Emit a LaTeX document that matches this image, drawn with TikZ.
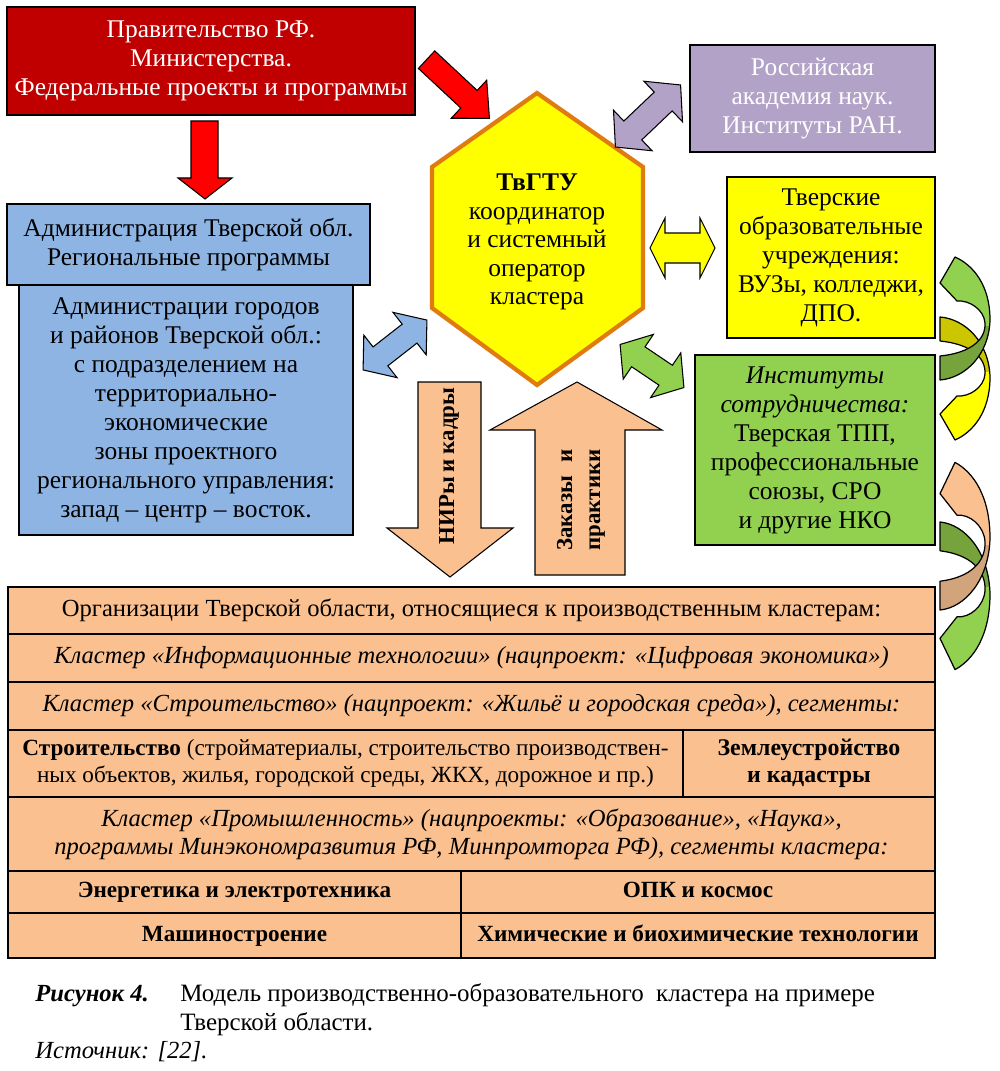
\documentclass[tikz,border=0pt]{standalone}
\usepackage{fontspec}
\setmainfont{Liberation Serif}
\definecolor{gred}{HTML}{C00000}
\definecolor{ared}{HTML}{FF0000}
\definecolor{bl}{HTML}{8DB4E2}
\definecolor{pu}{HTML}{B3A2C7}
\definecolor{ye}{HTML}{FFFF00}
\definecolor{yed}{HTML}{CCC600}
\definecolor{hexor}{HTML}{E07B10}
\definecolor{gr}{HTML}{92D050}
\definecolor{grd}{HTML}{77A33C}
\definecolor{pe}{HTML}{FAC090}
\definecolor{ped}{HTML}{D2A47C}
\newcommand\DblArr[8]{%
  \begin{scope}[shift={(#1,#2)},rotate=#3]
    \filldraw[fill=#8,draw=black,line width=0.6pt]
      ({-#4/2},0) -- ({-#4/2+#5},{-#6}) -- ({-#4/2+#5},{-#7}) -- ({#4/2-#5},{-#7})
      -- ({#4/2-#5},{-#6}) -- ({#4/2},0) -- ({#4/2-#5},{#6}) -- ({#4/2-#5},{#7})
      -- ({-#4/2+#5},{#7}) -- ({-#4/2+#5},{#6}) -- cycle;
  \end{scope}}
\newcommand\SglArr[8]{%
  \begin{scope}[shift={(#1,#2)},rotate=#3]
    \filldraw[fill=#8,draw=black,line width=0.6pt]
      ({-#4/2},{-#7}) -- ({#4/2-#5},{-#7}) -- ({#4/2-#5},{-#6}) -- ({#4/2},0)
      -- ({#4/2-#5},{#6}) -- ({#4/2-#5},{#7}) -- ({-#4/2},{#7}) -- cycle;
  \end{scope}}
\newcommand\CurvArrow[5]{%
  \begin{scope}[shift={(#1,#2)},yscale=#3]
    \fill[#4] (0,0) -- (0,-24) .. controls (30,-27) and (46,-40) .. (45,-57)
      .. controls (44,-70) and (30,-80) .. (17,-79) -- (0,-97) -- (15,-123)
      .. controls (33,-115) and (50,-95) .. (50,-60) .. controls (49,-25) and (25,-2) .. (0,0) -- cycle;
    \begin{scope}
      \clip (-5,-54) rectangle (60,5);
      \fill[#5] (0,0) -- (0,-24) .. controls (30,-27) and (46,-40) .. (45,-57)
        .. controls (44,-70) and (30,-80) .. (17,-79) -- (0,-97) -- (15,-123)
        .. controls (33,-115) and (50,-95) .. (50,-60) .. controls (49,-25) and (25,-2) .. (0,0) -- cycle;
    \end{scope}
    \draw[line width=0.7pt,line join=round] (0,0) -- (0,-24) .. controls (30,-27) and (46,-40) .. (45,-57)
      .. controls (44,-70) and (30,-80) .. (17,-79) -- (0,-97) -- (15,-123)
      .. controls (33,-115) and (50,-95) .. (50,-60) .. controls (49,-25) and (25,-2) .. (0,0) -- cycle;
  \end{scope}}
\begin{document}
\begin{tikzpicture}[x=0.02cm,y=-0.02cm,
  box/.style={draw=black,line width=0.8pt,inner sep=0pt,align=center,
    font=\fontsize{14.5}{16.5}\selectfont},
  cell/.style={draw=black,line width=0.8pt,fill=pe,inner sep=0pt,align=center,
    font=\fontsize{14}{16}\selectfont},
  bcell/.style={cell,font=\fontsize{13.2}{16}\selectfont\bfseries},
  lbl/.style={inner sep=0pt,align=center,font=\fontsize{14.5}{16.2}\selectfont}]
\useasboundingbox[fill=white] (0,0) rectangle (1000,1071);

% boxes
\node[box,fill=gred,text=white,minimum width=408*0.02cm,minimum height=108*0.02cm] (gov) at (211,61)
  {Правительство РФ.\\Министерства.\\Федеральные проекты и программы};
\node[box,fill=bl,minimum width=334*0.02cm,minimum height=250*0.02cm] (mun) at (186,410)
  {Администрации городов\\и районов Тверской обл.:\\с подразделением на\\территориально-\\экономические\\зоны проектного\\регионального управления:\\запад – центр – восток.};
\node[box,fill=bl,minimum width=363*0.02cm,minimum height=81*0.02cm] (adm) at (188.5,244.5)
  {Администрация Тверской обл.\\Региональные программы};
\node[box,fill=pu,text=white,minimum width=245*0.02cm,minimum height=107*0.02cm] (ran) at (812.5,98.5)
  {Российская\\академия наук.\\Институты РАН.};
\node[box,fill=ye,minimum width=208*0.02cm,minimum height=161*0.02cm] (edu) at (831,257.5)
  {Тверские\\образовательные\\учреждения:\\ВУЗы, колледжи,\\ДПО.};
\node[box,fill=gr,minimum width=240*0.02cm,minimum height=190*0.02cm] (inst) at (815,450)
  {\textit{Институты}\\\textit{сотрудничества:}\\Тверская ТПП,\\профессиональные\\союзы, СРО\\и другие НКО};

% hexagon
\draw[fill=ye,draw=hexor,line width=2.4pt,line join=miter] (537,93) -- (643,167) -- (643,308) -- (537,385) -- (432,308) -- (432,167) -- cycle;
\node[lbl] (hex) at (537,242) {\textbf{ТвГТУ}\\координатор\\и системный\\оператор\\кластера};

% straight arrows
\filldraw[fill=ared,draw=black,line width=0.6pt] (191,121) -- (218,121) -- (218,178) -- (232,178) -- (205,199) -- (178,178) -- (191,178) -- cycle;
\SglArr{458}{89}{-43}{86}{28}{26}{12}{ared}
\DblArr{648}{116}{43.6}{90}{24}{28}{13}{pu}
\DblArr{682.5}{248}{0}{65}{15}{30}{15}{ye}
\DblArr{652}{366}{-34}{77}{22}{27}{12}{gr}
\DblArr{395}{345}{38}{81}{22}{27}{12}{bl}

% peach arrows
\filldraw[fill=pe,draw=black,line width=0.6pt] (418,382) -- (481,382) -- (481,528) -- (513,528) -- (450,577) -- (387,528) -- (418,528) -- cycle;
\filldraw[fill=pe,draw=black,line width=0.6pt] (535,575) -- (535,430) -- (490,430) -- (577,382) -- (662,430) -- (625,430) -- (625,575) -- cycle;
\node[lbl,rotate=90,font=\fontsize{13}{16}\selectfont\bfseries] (nir) at (449,466)
  {\makebox[89pt]{НИРы\hfill и\hfill кадры}};
\node[lbl,rotate=90,font=\fontsize{13}{16}\selectfont\bfseries] (zak) at (581,500)
  {\sbox0{практики}\makebox[\wd0]{Заказы\hfill и}\\практики};

% curved arrows
\CurvArrow{940}{317}{-1}{ye}{yed}
\CurvArrow{940}{380}{1}{gr}{grd}
\CurvArrow{940}{522}{-1.2}{gr}{grd}
\CurvArrow{940}{610}{1.2}{pe}{ped}

% table
\node[cell,minimum width=927*0.02cm,minimum height=47*0.02cm] (r1) at (471.5,610.5)
  {Организации Тверской области, относящиеся к производственным кластерам:};
\node[cell,minimum width=927*0.02cm,minimum height=48*0.02cm] (r2) at (471.5,658)
  {\itshape Кластер «Информационные технологии» (нацпроект: «Цифровая экономика»)};
\node[cell,minimum width=927*0.02cm,minimum height=48*0.02cm] (r3) at (471.5,706)
  {\itshape Кластер «Строительство» (нацпроект: «Жильё и городская среда»), сегменты:};
\node[cell,minimum width=675*0.02cm,minimum height=67*0.02cm,font=\fontsize{13.2}{15.5}\selectfont] (r4a) at (345.5,763.5)
  {\textbf{Строительство} (стройматериалы, строительство производствен-\\ных объектов, жилья, городской среды, ЖКХ, дорожное и пр.)};
\node[bcell,minimum width=252*0.02cm,minimum height=67*0.02cm,font=\fontsize{13.6}{15.5}\selectfont\bfseries] (r4b) at (809,763.5)
  {Землеустройство\\и кадастры};
\node[cell,minimum width=927*0.02cm,minimum height=74*0.02cm] (r5) at (471.5,834)
  {\itshape Кластер «Промышленность» (нацпроекты: «Образование», «Наука»,\\\itshape программы Минэкономразвития РФ, Минпромторга РФ), сегменты кластера:};
\node[bcell,minimum width=453*0.02cm,minimum height=42*0.02cm] (r6a) at (234.5,892)
  {\strut Энергетика и электротехника};
\node[bcell,minimum width=474*0.02cm,minimum height=42*0.02cm] (r6b) at (698,892)
  {\strut ОПК и космос};
\node[bcell,minimum width=453*0.02cm,minimum height=45*0.02cm] (r7a) at (234.5,935.5)
  {\strut Машиностроение};
\node[bcell,minimum width=474*0.02cm,minimum height=45*0.02cm] (r7b) at (698,935.5)
  {\strut Химические и биохимические технологии};

% caption
\node[anchor=base west,inner sep=0pt,font=\fontsize{14}{16}\selectfont\bfseries\itshape] (figlab) at (35,1001) {Рисунок 4.};
\node[anchor=base west,inner sep=0pt,font=\fontsize{14.2}{16}\selectfont] (cap1) at (180,1001) {Модель производственно-образовательного\ \ кластера на примере};
\node[anchor=base west,inner sep=0pt,font=\fontsize{14.2}{16}\selectfont] (cap2) at (180,1030) {Тверской области.};
\node[anchor=base west,inner sep=0pt,font=\fontsize{14}{16}\selectfont\itshape] (src) at (35,1058) {Источник: [22].};
\end{tikzpicture}
\end{document}
